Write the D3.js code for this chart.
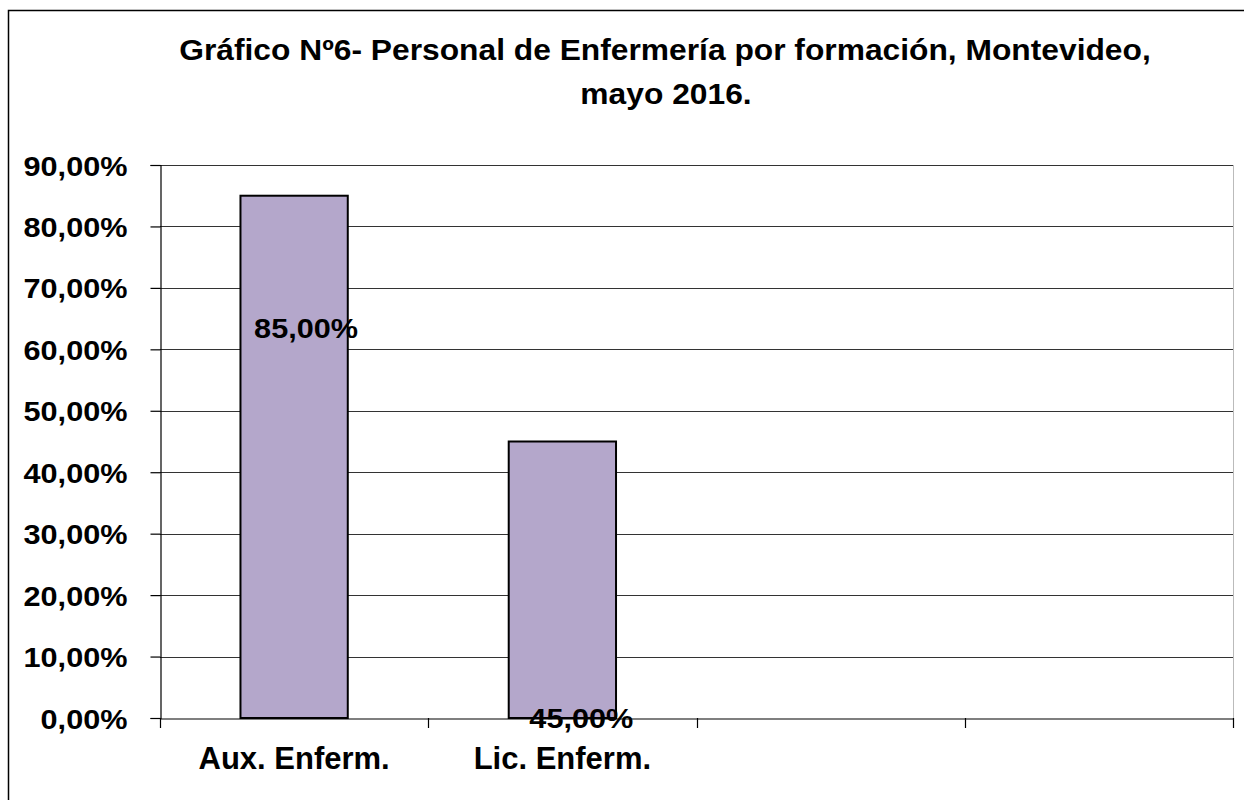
<!DOCTYPE html>
<html><head><meta charset="utf-8">
<script src="https://cdn.jsdelivr.net/npm/d3@7"></script>
<style>
html,body{margin:0;padding:0;background:#fff;}
svg{display:block;}
text{font-family:"Liberation Sans",Arial,sans-serif;font-weight:bold;fill:#000;}
</style></head>
<body>
<script>
const titleLines = ["Gráfico Nº6- Personal de Enfermería por formación, Montevideo,", "mayo 2016."];
const categories = ["Aux. Enferm.", "Lic. Enferm.", "", " "];
const values = [0.85, 0.45, null, null];
const valueLabels = ["85,00%", "45,00%"];
const yTicks = [0, 0.1, 0.2, 0.3, 0.4, 0.5, 0.6, 0.7, 0.8, 0.9];

const W = 1244, H = 800;
const STRETCH = 1.095;
const svg = d3.select("body").append("svg").attr("width", W).attr("height", H);

function widen(sel, f) {
  sel.each(function() {
    const len = this.getComputedTextLength();
    d3.select(this).attr("textLength", len * f).attr("lengthAdjust", "spacingAndGlyphs");
  });
}

// outer frame
svg.append("rect").attr("x", 8.5).attr("y", 10.5).attr("width", W + 20).attr("height", H + 20)
  .attr("fill", "none").attr("stroke", "#000").attr("stroke-width", 1.5);

const m = {left: 160, top: 165, right: 1233, bottom: 718};
const x = d3.scaleBand().domain(categories).range([m.left, m.right]).paddingInner(0).paddingOuter(0);
const y = d3.scaleLinear().domain([0, 0.9]).range([m.bottom, m.top]);

// title
const t1 = svg.append("text").attr("x", 665).attr("y", 60).attr("text-anchor", "middle")
  .style("font-size", "29px").text(titleLines[0]);
const t2 = svg.append("text").attr("x", 666).attr("y", 104).attr("text-anchor", "middle")
  .style("font-size", "29px").text(titleLines[1]);
widen(t1, STRETCH); widen(t2, STRETCH);

// plot area right border (light)
svg.append("line").attr("x1", m.right + 0.5).attr("x2", m.right + 0.5).attr("y1", m.top).attr("y2", m.bottom)
  .attr("stroke", "#bbb").attr("stroke-width", 1);

// gridlines
svg.append("g").selectAll("line").data(yTicks.filter(d => d > 0)).join("line")
  .attr("x1", m.left).attr("x2", m.right)
  .attr("y1", d => Math.round(y(d)) + 0.5).attr("y2", d => Math.round(y(d)) + 0.5)
  .attr("stroke", "#333").attr("stroke-width", 1.2);

// y axis
const yAxis = d3.axisLeft(y).tickValues(yTicks).tickSize(10).tickPadding(23)
  .tickFormat(d => d3.format(".2f")(d * 100).replace(".", ",") + "%");
const gy = svg.append("g").attr("transform", `translate(${m.left + 0.5},0)`).call(yAxis);
gy.selectAll("path.domain").attr("stroke", "#000").attr("stroke-width", 1.2);
gy.selectAll(".tick line").attr("stroke", "#000").attr("stroke-width", 1.2);
gy.selectAll(".tick text").style("font-size", "28px").style("font-family", "Liberation Sans, Arial, sans-serif")
  .style("font-weight", "bold").attr("fill", "#000").attr("dy", "0.36em");
widen(gy.selectAll(".tick text"), STRETCH);

// bars
svg.append("g").selectAll("rect").data(categories.map((c, i) => ({c, v: values[i]})).filter(d => d.v != null))
  .join("rect")
  .attr("x", d => x(d.c) + x.bandwidth() * 0.3)
  .attr("width", x.bandwidth() * 0.4)
  .attr("y", d => y(d.v))
  .attr("height", d => y(0) - y(d.v))
  .attr("fill", "#b4a7cb").attr("stroke", "#000").attr("stroke-width", 2);

// x axis
const xAxis = d3.axisBottom(x).tickSize(0).tickFormat(d => d.trim());
const gx = svg.append("g").attr("transform", `translate(0,${m.bottom + 0.5})`).call(xAxis);
gx.selectAll("path.domain").attr("stroke", "#000").attr("stroke-width", 1.2);
gx.selectAll(".tick text").style("font-size", "31px").style("font-family", "Liberation Sans, Arial, sans-serif")
  .style("font-weight", "bold").attr("fill", "#000").attr("y", 28);
// category boundary ticks
const bounds = categories.map(c => x(c)).concat([x(categories[categories.length - 1]) + x.bandwidth()]);
svg.append("g").selectAll("line").data(bounds).join("line")
  .attr("x1", d => Math.round(d) + 0.5).attr("x2", d => Math.round(d) + 0.5)
  .attr("y1", m.bottom).attr("y2", m.bottom + 10)
  .attr("stroke", "#000").attr("stroke-width", 1.2);

// value labels (positions as in the original figure)
const labelPos = [0.635, 0];
const vl = svg.append("g").selectAll("text").data(valueLabels).join("text")
  .attr("x", (d, i) => x(categories[i]) + x.bandwidth() / 2 + (i === 0 ? 12 : 19))
  .attr("y", (d, i) => y(labelPos[i]))
  .attr("dy", "0.36em")
  .attr("text-anchor", "middle")
  .style("font-size", "28px")
  .text(d => d);
widen(vl, STRETCH);
</script>
</body></html>
